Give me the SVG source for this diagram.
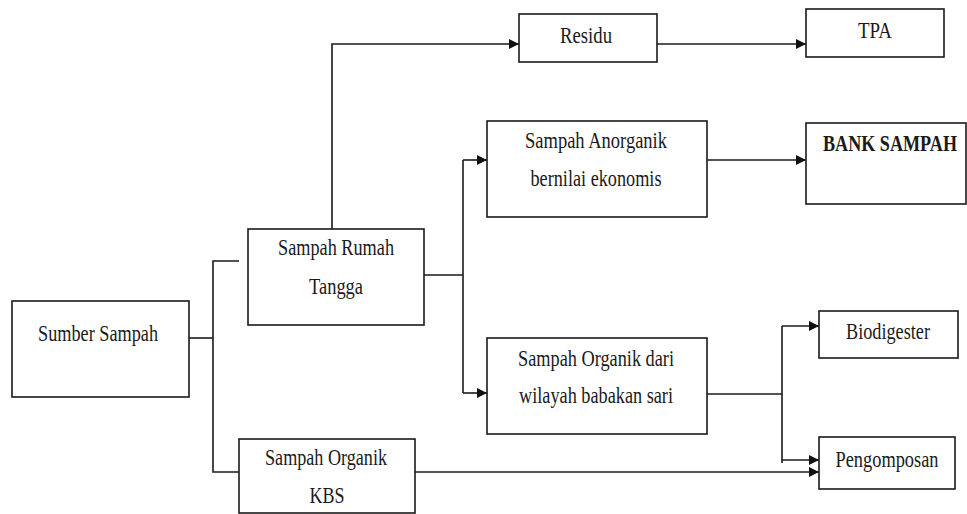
<svg xmlns="http://www.w3.org/2000/svg" width="967" height="514" viewBox="0 0 967 514">
  <defs>
    <marker id="arrow" viewBox="0 0 10 10" refX="10" refY="5" markerWidth="10" markerHeight="10" markerUnits="userSpaceOnUse" orient="auto">
      <path d="M0,0 L10,5 L0,10 Z" fill="#111"/>
    </marker>
    <style>
      .box { fill: #fff; stroke: #1a1a1a; stroke-width: 1.6; }
      .link { fill: none; stroke: #1a1a1a; stroke-width: 1.6; }
      .arr { marker-end: url(#arrow); }
      text { font-family: "Liberation Serif", "Times New Roman", serif; font-size: 19px; fill: #1a1a1a; text-anchor: middle; }
      .bold { font-weight: bold; }
    </style>
  </defs>

  <rect x="0" y="0" width="967" height="514" fill="#fff"/>

  <!-- connectors -->
  <g id="connectors">
    <path class="link arr" d="M332,229 V44 H519"/>
    <path class="link arr" d="M657,44 H806"/>
    <path class="link" d="M424,275 H463"/>
    <path class="link" d="M463,393 V160"/>
    <path class="link arr" d="M463,160 H487"/>
    <path class="link arr" d="M463,393 H487"/>
    <path class="link arr" d="M707,160 H806"/>
    <path class="link" d="M187,338 H213"/>
    <path class="link" d="M239,261 H213 V472 H239"/>
    <path class="link" d="M707,394 H782"/>
    <path class="link" d="M782,463 V326"/>
    <path class="link arr" d="M782,326 H819"/>
    <path class="link arr" d="M782,460 H819"/>
    <path class="link arr" d="M415,472 H819"/>
  </g>

  <!-- labels are set in a tall, narrow serif: stretched 1.2x vertically -->
  <g id="sumber-sampah">
    <rect class="box" x="12" y="301" width="177" height="96"/>
    <text transform="translate(98,341) scale(1,1.2)" textLength="120" lengthAdjust="spacingAndGlyphs">Sumber Sampah</text>
  </g>

  <g id="sampah-rumah-tangga">
    <rect class="box" x="248" y="229" width="176" height="96"/>
    <text transform="translate(336,255) scale(1,1.2)" textLength="116" lengthAdjust="spacingAndGlyphs">Sampah Rumah</text>
    <text transform="translate(336,294) scale(1,1.2)" textLength="54" lengthAdjust="spacingAndGlyphs">Tangga</text>
  </g>

  <g id="sampah-organik-kbs">
    <rect class="box" x="239" y="439" width="176" height="74"/>
    <text transform="translate(326,465) scale(1,1.2)" textLength="122" lengthAdjust="spacingAndGlyphs">Sampah Organik</text>
    <text transform="translate(327,503) scale(1,1.2)" textLength="35" lengthAdjust="spacingAndGlyphs">KBS</text>
  </g>

  <g id="residu">
    <rect class="box" x="519" y="14" width="138" height="48"/>
    <text transform="translate(586,43) scale(1,1.2)" textLength="52" lengthAdjust="spacingAndGlyphs">Residu</text>
  </g>

  <g id="tpa">
    <rect class="box" x="806" y="9" width="138" height="48"/>
    <text transform="translate(875,38) scale(1,1.2)" textLength="34" lengthAdjust="spacingAndGlyphs">TPA</text>
  </g>

  <g id="sampah-anorganik">
    <rect class="box" x="487" y="121" width="220" height="96"/>
    <text transform="translate(596,148) scale(1,1.2)" textLength="142" lengthAdjust="spacingAndGlyphs">Sampah Anorganik</text>
    <text transform="translate(596,186) scale(1,1.2)" textLength="131" lengthAdjust="spacingAndGlyphs">bernilai ekonomis</text>
  </g>

  <g id="bank-sampah">
    <rect class="box" x="806" y="123" width="160" height="81"/>
    <text class="bold" transform="translate(890,151) scale(1,1.2)" textLength="134" lengthAdjust="spacingAndGlyphs">BANK SAMPAH</text>
  </g>

  <g id="sampah-organik-babakan-sari">
    <rect class="box" x="487" y="338" width="220" height="96"/>
    <text transform="translate(596,366) scale(1,1.2)" textLength="156" lengthAdjust="spacingAndGlyphs">Sampah Organik dari</text>
    <text transform="translate(596,403) scale(1,1.2)" textLength="154" lengthAdjust="spacingAndGlyphs">wilayah babakan sari</text>
  </g>

  <g id="biodigester">
    <rect class="box" x="819" y="311" width="139" height="47"/>
    <text transform="translate(888,339) scale(1,1.2)" textLength="84" lengthAdjust="spacingAndGlyphs">Biodigester</text>
  </g>

  <g id="pengomposan">
    <rect class="box" x="819" y="437" width="136" height="52"/>
    <text transform="translate(887,467) scale(1,1.2)" textLength="103" lengthAdjust="spacingAndGlyphs">Pengomposan</text>
  </g>
</svg>
